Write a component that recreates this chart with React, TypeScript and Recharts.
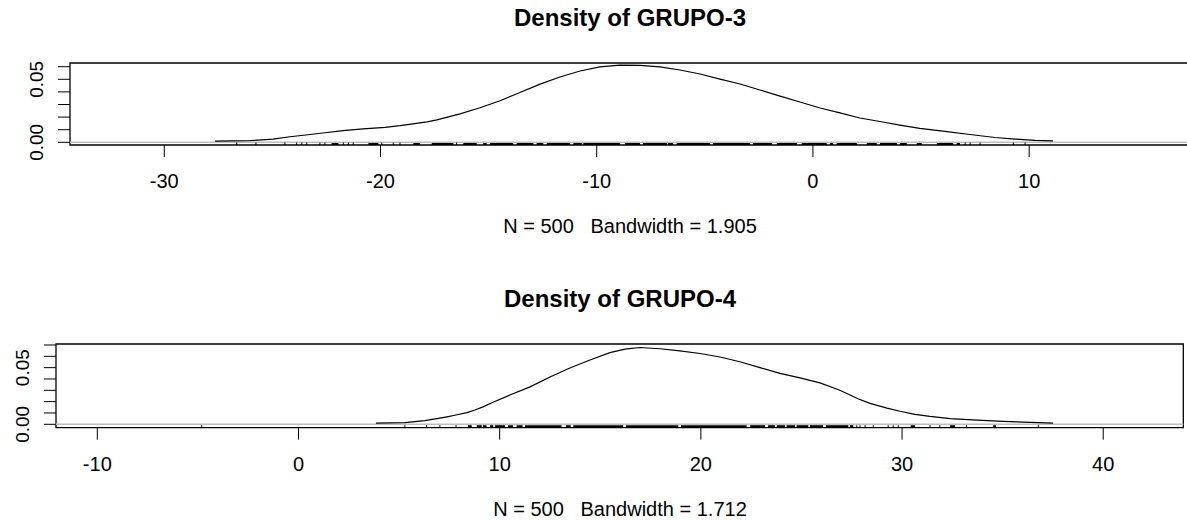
import React from 'react';
import { ComposedChart, Line, XAxis, YAxis, ReferenceArea, ReferenceLine } from 'recharts';

const FONT = '"Liberation Sans", Arial, Helvetica, sans-serif';

// ---------- GRUPO-3 ----------
const title3 = 'Density of GRUPO-3';
const sub3 = 'N = 500   Bandwidth = 1.905';
const curve3X = [-27.65, -26.03, -24.97, -24.19, -23.35, -22.57, -21.73, -20.81, -19.79, -19.10, -18.50, -17.85, -17.39, -16.32, -15.40, -14.47, -13.55, -12.62, -11.70, -10.77, -9.85, -8.92, -8.00, -7.08, -6.15, -5.22, -4.30, -3.37, -2.45, -1.52, -0.60, 0.33, 1.25, 2.17, 3.10, 4.02, 4.94, 6.10, 7.26, 8.42, 9.34, 10.27, 11.10];
const curve3Y = [0.0010, 0.0013, 0.0026, 0.0044, 0.0060, 0.0076, 0.0092, 0.0106, 0.0119, 0.0132, 0.0146, 0.0162, 0.0178, 0.0226, 0.0274, 0.0330, 0.0395, 0.0462, 0.0518, 0.0566, 0.0598, 0.0613, 0.0610, 0.0598, 0.0574, 0.0542, 0.0502, 0.0463, 0.0415, 0.0367, 0.0320, 0.0272, 0.0233, 0.0193, 0.0165, 0.0137, 0.0110, 0.0086, 0.0062, 0.0038, 0.0026, 0.0016, 0.0012];
const rug3Points = [-26.65, -25.76, -24.42, -23.88, -23.64, -23.41, -22.80, -22.57, -21.72, -21.49, -21.26, -19.94, -19.41, -19.10, -16.48, 7.04, 7.27, 7.73, 9.27, 9.81];
const rug3Runs = [[-22.26, -21.95], [-20.56, -20.10], [-18.48, -18.17], [-17.63, -16.63], [-16.17, -15.55], [-15.25, -15.09], [-14.94, -13.86], [-13.70, -12.93], [-12.78, -12.47], [-12.31, -11.24], [-11.08, -10.69], [-10.62, -8.93], [-8.69, -8.00], [-7.86, -6.75], [-6.70, -6.47], [-6.30, -4.76], [-4.62, -2.91], [-2.77, -1.89], [-1.67, -0.74], [-0.52, 0.64], [0.79, 0.93], [1.10, 2.03], [2.49, 2.95], [3.10, 3.88], [4.03, 4.34], [4.80, 5.03], [5.73, 6.49], [6.65, 6.80]];
const xTicks3 = [-30, -20, -10, 0, 10];
const yTicks3 = [0, 0.01, 0.02, 0.03, 0.04, 0.05, 0.06];
const yLabels3 = [0, 0.05];

// ---------- GRUPO-4 ----------
const title4 = 'Density of GRUPO-4';
const sub4 = 'N = 500   Bandwidth = 1.712';
const curve4X = [3.85, 5.29, 6.28, 6.88, 7.38, 7.88, 8.37, 8.77, 9.17, 9.67, 10.51, 11.51, 12.50, 13.49, 14.49, 15.48, 16.23, 16.97, 17.97, 18.96, 19.96, 20.95, 21.94, 22.94, 23.93, 24.93, 25.92, 26.91, 27.81, 28.41, 29.25, 29.90, 30.64, 31.39, 32.39, 33.73, 35.02, 37.51];
const curve4Y = [0.0011, 0.0014, 0.0032, 0.0050, 0.0066, 0.0084, 0.0103, 0.0126, 0.0154, 0.0195, 0.0258, 0.0330, 0.0417, 0.0497, 0.0568, 0.0632, 0.0663, 0.0678, 0.0667, 0.0648, 0.0625, 0.0594, 0.0552, 0.0500, 0.0450, 0.0410, 0.0365, 0.0300, 0.0225, 0.0185, 0.0143, 0.0115, 0.0088, 0.0070, 0.0050, 0.0036, 0.0025, 0.0011];
const rug4Points = [-4.81, 5.29, 6.37, 7.03, 7.83, 27.75, 27.91, 28.16, 28.57, 29.31, 29.56, 29.81, 31.39, 31.88, 33.21, 36.77];
const rug4Runs = [[8.42, 8.61], [8.86, 9.11], [9.17, 9.35], [9.52, 9.68], [9.77, 10.26], [10.41, 10.66], [10.84, 11.14], [11.26, 13.08], [13.30, 13.53], [13.66, 16.14], [16.28, 18.88], [19.01, 22.28], [22.45, 23.19], [23.34, 23.68], [23.77, 24.18], [24.26, 24.68], [24.76, 25.34], [25.42, 26.08], [26.22, 27.33], [27.41, 27.58], [30.43, 30.64], [32.38, 32.63], [34.53, 34.67]];
const xTicks4 = [-10, 0, 10, 20, 30, 40];
const yTicks4 = [0, 0.01, 0.02, 0.03, 0.04, 0.05, 0.06, 0.07];
const yLabels4 = [0, 0.05];

type PanelProps = {
  xs: number[]; ys: number[];
  rugPoints: number[]; rugRuns: number[][];
  xTicks: number[]; yTicks: number[]; yLabels: number[];
  xDomain: [number, number]; yDomain: [number, number];
  width: number; height: number;
  margin: { top: number; right: number; bottom: number; left: number };
  yAxisWidth: number; rugH: number;
};

function Panel(p: PanelProps) {
  const data = p.xs.map((x, i) => ({ x, y: p.ys[i] }));
  const y0 = p.yDomain[0];
  const renderXTick = (t: any) => (
    <text x={t.x} y={t.y + 29} textAnchor="middle" fontSize={20} fontFamily={FONT} fill="#000">
      {String(t.payload.value)}
    </text>
  );
  const renderYTick = (t: any) => {
    const v = t.payload.value;
    if (!p.yLabels.some((l) => Math.abs(l - v) < 1e-9)) return <g />;
    const bx = t.x - 12.5;
    return (
      <text x={bx} y={t.y} transform={`rotate(-90 ${bx} ${t.y})`} textAnchor="middle" fontSize={19} fontFamily={FONT} fill="#000">
        {v.toFixed(2)}
      </text>
    );
  };
  return (
    <ComposedChart width={p.width} height={p.height} margin={p.margin}>
      <XAxis type="number" dataKey="x" domain={p.xDomain} allowDataOverflow ticks={p.xTicks} interval={0}
        tickSize={12} tickMargin={2} axisLine={false} tickLine={{ stroke: '#000', strokeWidth: 1 }} height={50} tick={renderXTick} />
      <YAxis type="number" dataKey="y" domain={p.yDomain} allowDataOverflow ticks={p.yTicks} interval={0}
        tickSize={12} tickMargin={2} axisLine={false} tickLine={{ stroke: '#000', strokeWidth: 1 }} width={p.yAxisWidth} tick={renderYTick} />
      <ReferenceLine y={0} stroke="#bebebe" strokeWidth={1.5} ifOverflow="visible" />
      {p.rugRuns.map((r, i) => (
        <ReferenceArea key={'r' + i} x1={r[0]} x2={r[1]} y1={y0} y2={y0 + p.rugH} fill="#000" fillOpacity={1} stroke="none" ifOverflow="visible" />
      ))}
      {p.rugPoints.map((v, i) => (
        <ReferenceLine key={'p' + i} segment={[{ x: v, y: y0 }, { x: v, y: y0 + p.rugH }]} stroke="#000" strokeWidth={1} ifOverflow="visible" />
      ))}
      <ReferenceArea x1={p.xDomain[0]} x2={p.xDomain[1]} y1={p.yDomain[0]} y2={p.yDomain[1]} fill="none" fillOpacity={0} stroke="#000" strokeWidth={1.3} ifOverflow="visible" />
      <Line data={data} type="linear" dataKey="y" stroke="#000" strokeWidth={1.2} dot={false} activeDot={false} isAnimationActive={false} />
    </ComposedChart>
  );
}

export default function App() {
  return (
    <div style={{ position: 'absolute', left: 0, top: 0, width: 1187, height: 520, overflow: 'hidden', background: '#fff' }}>
      <div style={{ position: 'absolute', left: 0, top: 0 }}>
        <Panel xs={curve3X} ys={curve3Y} rugPoints={rug3Points} rugRuns={rug3Runs}
          xTicks={xTicks3} yTicks={yTicks3} yLabels={yLabels3}
          xDomain={[-34.36, 17.67]} yDomain={[-0.00214, 0.06294]}
          width={1260} height={250} margin={{ top: 63, right: 65, bottom: 55, left: 0 }}
          yAxisWidth={70} rugH={0.002} />
      </div>
      <div style={{ position: 'absolute', left: 0, top: 260 }}>
        <Panel xs={curve4X} ys={curve4Y} rugPoints={rug4Points} rugRuns={rug4Runs}
          xTicks={xTicks4} yTicks={yTicks4} yLabels={yLabels4}
          xDomain={[-12.053, 43.98]} yDomain={[-0.0030, 0.07087]}
          width={1187} height={260} margin={{ top: 84, right: 3.7, bottom: 42.3, left: 0 }}
          yAxisWidth={56} rugH={0.0022} />
      </div>
      <svg width={1187} height={520} style={{ position: 'absolute', left: 0, top: 0, pointerEvents: 'none' }}>
        <text x={630} y={26} textAnchor="middle" fontSize={24} fontWeight="bold" fontFamily={FONT} fill="#000">{title3}</text>
        <text x={630} y={233} textAnchor="middle" fontSize={20} fontFamily={FONT} fill="#000" style={{ whiteSpace: 'pre' }}>{sub3}</text>
        <text x={620} y={307} textAnchor="middle" fontSize={24} fontWeight="bold" fontFamily={FONT} fill="#000">{title4}</text>
        <text x={620} y={516} textAnchor="middle" fontSize={20} fontFamily={FONT} fill="#000" style={{ whiteSpace: 'pre' }}>{sub4}</text>
      </svg>
    </div>
  );
}
